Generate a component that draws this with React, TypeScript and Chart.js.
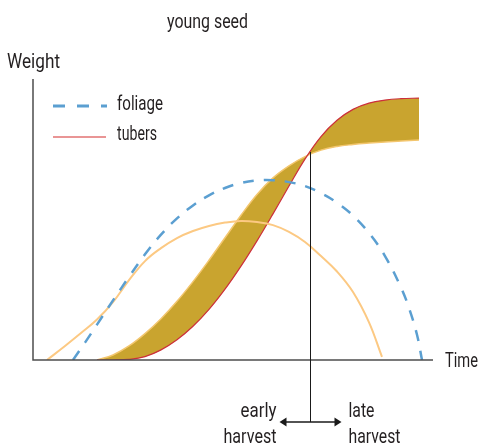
import React, { useEffect, useRef } from "react";
import { Chart, registerables } from "chart.js";

Chart.register(...registerables);

// ---- data (arbitrary units: time 0..100, weight 0..100) ----
const foliageX = [10, 13, 16, 20, 24, 28, 32, 36, 40, 44, 48, 52, 56, 60, 64, 68, 72, 76, 80, 84, 88, 92, 94, 96, 97.25];
const foliageY = [0, 6.2, 12.6, 21.2, 29.6, 37.6, 44.6, 50.4, 55.0, 58.6, 61.2, 63.0, 63.9, 64.0, 63.3, 61.9, 59.4, 56.0, 51.4, 45.2, 37.0, 25.8, 18.5, 9.0, 0];

const youngSeedX = [3.5, 8, 12, 16, 20, 24, 28, 32, 36, 40, 44, 48, 52, 56, 60, 64, 68, 72, 76, 80, 84, 87.25];
const youngSeedY = [0, 5.0, 9.6, 14.4, 20.6, 28.4, 35.2, 39.8, 43.4, 45.9, 47.7, 48.9, 49.5, 49.1, 48.0, 45.6, 42.0, 37.0, 31.5, 24.2, 13.4, 1.1];

const tubersX = [16, 20, 24, 28, 32, 36, 40, 44, 48, 52, 56, 60, 64, 68, 72, 76, 80, 84, 88, 92, 96.5];
const tubersY = [0, 0, 0.2, 1.2, 3.6, 7.2, 12.0, 18.0, 25.2, 33.4, 42.4, 52.0, 61.9, 71.5, 79.5, 85.3, 89.2, 91.4, 92.5, 93.0, 93.2];
const tubersAltY = [0, 1.8, 5.0, 9.4, 14.7, 20.9, 27.9, 35.5, 43.5, 51.5, 58.9, 64.8, 69.1, 72.4, 74.7, 76.0, 76.7, 77.2, 77.6, 77.9, 78.3];

const harvestX = 69.25;
const harvestY = 74.0;

const titleText = "young seed";
const yAxisLabel = "Weight";
const xAxisLabel = "Time";
const legendLabels = ["foliage", "tubers"];
const earlyLabel = ["early", "harvest"];
const lateLabel = ["late", "harvest"];

const BLUE = "#5b9fd1";
const ORANGE = "#fcc983";
const GOLD = "#c9a42f";
const RED = "#cc2f3b";
const LEGEND_RED = "#e27272";
const EDGE = "#f3c66e";
const TEXT = "#231f20";
const FONT = '21px Roboto, "Liberation Sans", sans-serif';

const toPts = (xs: number[], ys: number[]) => xs.map((x, i) => ({ x, y: ys[i] }));

function fitText(ctx: CanvasRenderingContext2D, text: string, x: number, y: number, w: number) {
  ctx.save();
  const m = ctx.measureText(text).width;
  ctx.translate(x, y);
  ctx.scale(w / m, 1);
  ctx.fillText(text, 0, 0);
  ctx.restore();
}

const annotPlugin = {
  id: "annot",
  afterDraw(chart: any) {
    const ctx: CanvasRenderingContext2D = chart.ctx;
    const { left, right, top, bottom } = chart.chartArea;
    const xs = chart.scales.x;
    const ys = chart.scales.y;
    ctx.save();
    // axes
    ctx.strokeStyle = "#4d4d4d";
    ctx.lineWidth = 1.5;
    ctx.beginPath();
    ctx.moveTo(left, top);
    ctx.lineTo(left, bottom);
    ctx.lineTo(right, bottom);
    ctx.stroke();

    // harvest line
    const hx = Math.round(xs.getPixelForValue(harvestX)) + 0.5;
    const hy = ys.getPixelForValue(harvestY);
    const ay = bottom + 62;
    ctx.strokeStyle = "#1a1a1a";
    ctx.lineWidth = 1;
    ctx.beginPath();
    ctx.moveTo(hx, hy);
    ctx.lineTo(hx, ay);
    ctx.stroke();
    // arrow
    ctx.lineWidth = 1.5;
    ctx.beginPath();
    ctx.moveTo(hx - 27, ay);
    ctx.lineTo(hx + 27, ay);
    ctx.stroke();
    ctx.fillStyle = "#1a1a1a";
    ctx.beginPath();
    ctx.moveTo(hx - 31, ay);
    ctx.lineTo(hx - 24, ay - 4.5);
    ctx.lineTo(hx - 24, ay + 4.5);
    ctx.closePath();
    ctx.fill();
    ctx.beginPath();
    ctx.moveTo(hx + 31, ay);
    ctx.lineTo(hx + 24, ay - 4.5);
    ctx.lineTo(hx + 24, ay + 4.5);
    ctx.closePath();
    ctx.fill();

    // legend
    ctx.lineWidth = 3;
    ctx.strokeStyle = BLUE;
    ctx.setLineDash([12, 12]);
    ctx.beginPath();
    ctx.moveTo(53, 106);
    ctx.lineTo(107, 106);
    ctx.stroke();
    ctx.setLineDash([]);
    ctx.lineWidth = 1.5;
    ctx.strokeStyle = LEGEND_RED;
    ctx.beginPath();
    ctx.moveTo(53, 137);
    ctx.lineTo(106, 137);
    ctx.stroke();

    // texts
    ctx.fillStyle = TEXT;
    ctx.font = FONT;
    ctx.textAlign = "left";
    ctx.textBaseline = "alphabetic";
    fitText(ctx, titleText, 167, 28, 81);
    fitText(ctx, yAxisLabel, 7, 68, 53);
    fitText(ctx, legendLabels[0], 117, 110, 46);
    fitText(ctx, legendLabels[1], 117, 140, 40);
    fitText(ctx, xAxisLabel, right + 12, bottom + 7, 33);
    fitText(ctx, earlyLabel[0], hx - 70, ay - 5, 36);
    fitText(ctx, earlyLabel[1], hx - 87, ay + 21, 53);
    fitText(ctx, lateLabel[0], hx + 38, ay - 5, 26);
    fitText(ctx, lateLabel[1], hx + 38, ay + 21, 52);
    ctx.restore();
  },
};

export default function App() {
  const ref = useRef<HTMLCanvasElement | null>(null);
  useEffect(() => {
    if (!ref.current) return;
    const chart = new Chart(ref.current, {
      type: "line",
      data: {
        datasets: [
          {
            label: legendLabels[0],
            data: toPts(foliageX, foliageY),
            borderColor: BLUE,
            borderWidth: 2.5,
            borderDash: [11, 10],
            pointRadius: 0,
            fill: false,
            tension: 0.4,
          },
          {
            label: titleText,
            data: toPts(youngSeedX, youngSeedY),
            borderColor: ORANGE,
            borderWidth: 2,
            pointRadius: 0,
            fill: false,
            tension: 0.4,
          },
          {
            label: legendLabels[1],
            data: toPts(tubersX, tubersY),
            borderColor: RED,
            borderWidth: 1.2,
            pointRadius: 0,
            fill: false,
            tension: 0.4,
          },
          {
            label: "tubers (alt)",
            data: toPts(tubersX, tubersAltY),
            borderColor: EDGE,
            borderWidth: 1.5,
            backgroundColor: GOLD,
            pointRadius: 0,
            fill: "-1",
            tension: 0.4,
          },
        ],
      },
      options: {
        responsive: false,
        animation: false,
        devicePixelRatio: 1,
        layout: { padding: { left: 33, right: 47, top: 79, bottom: 87 } },
        plugins: { legend: { display: false }, tooltip: { enabled: false }, title: { display: false } },
        scales: {
          x: { type: "linear", min: 0, max: 100, display: false },
          y: { type: "linear", min: 0, max: 100, display: false },
        },
      },
      plugins: [annotPlugin],
    } as any);
    return () => chart.destroy();
  }, []);
  return (
    <div style={{ position: "absolute", left: 0, top: 0, width: 480, height: 447, background: "#fff" }}>
      <canvas ref={ref} width={480} height={447} style={{ width: 480, height: 447, display: "block" }} />
    </div>
  );
}
